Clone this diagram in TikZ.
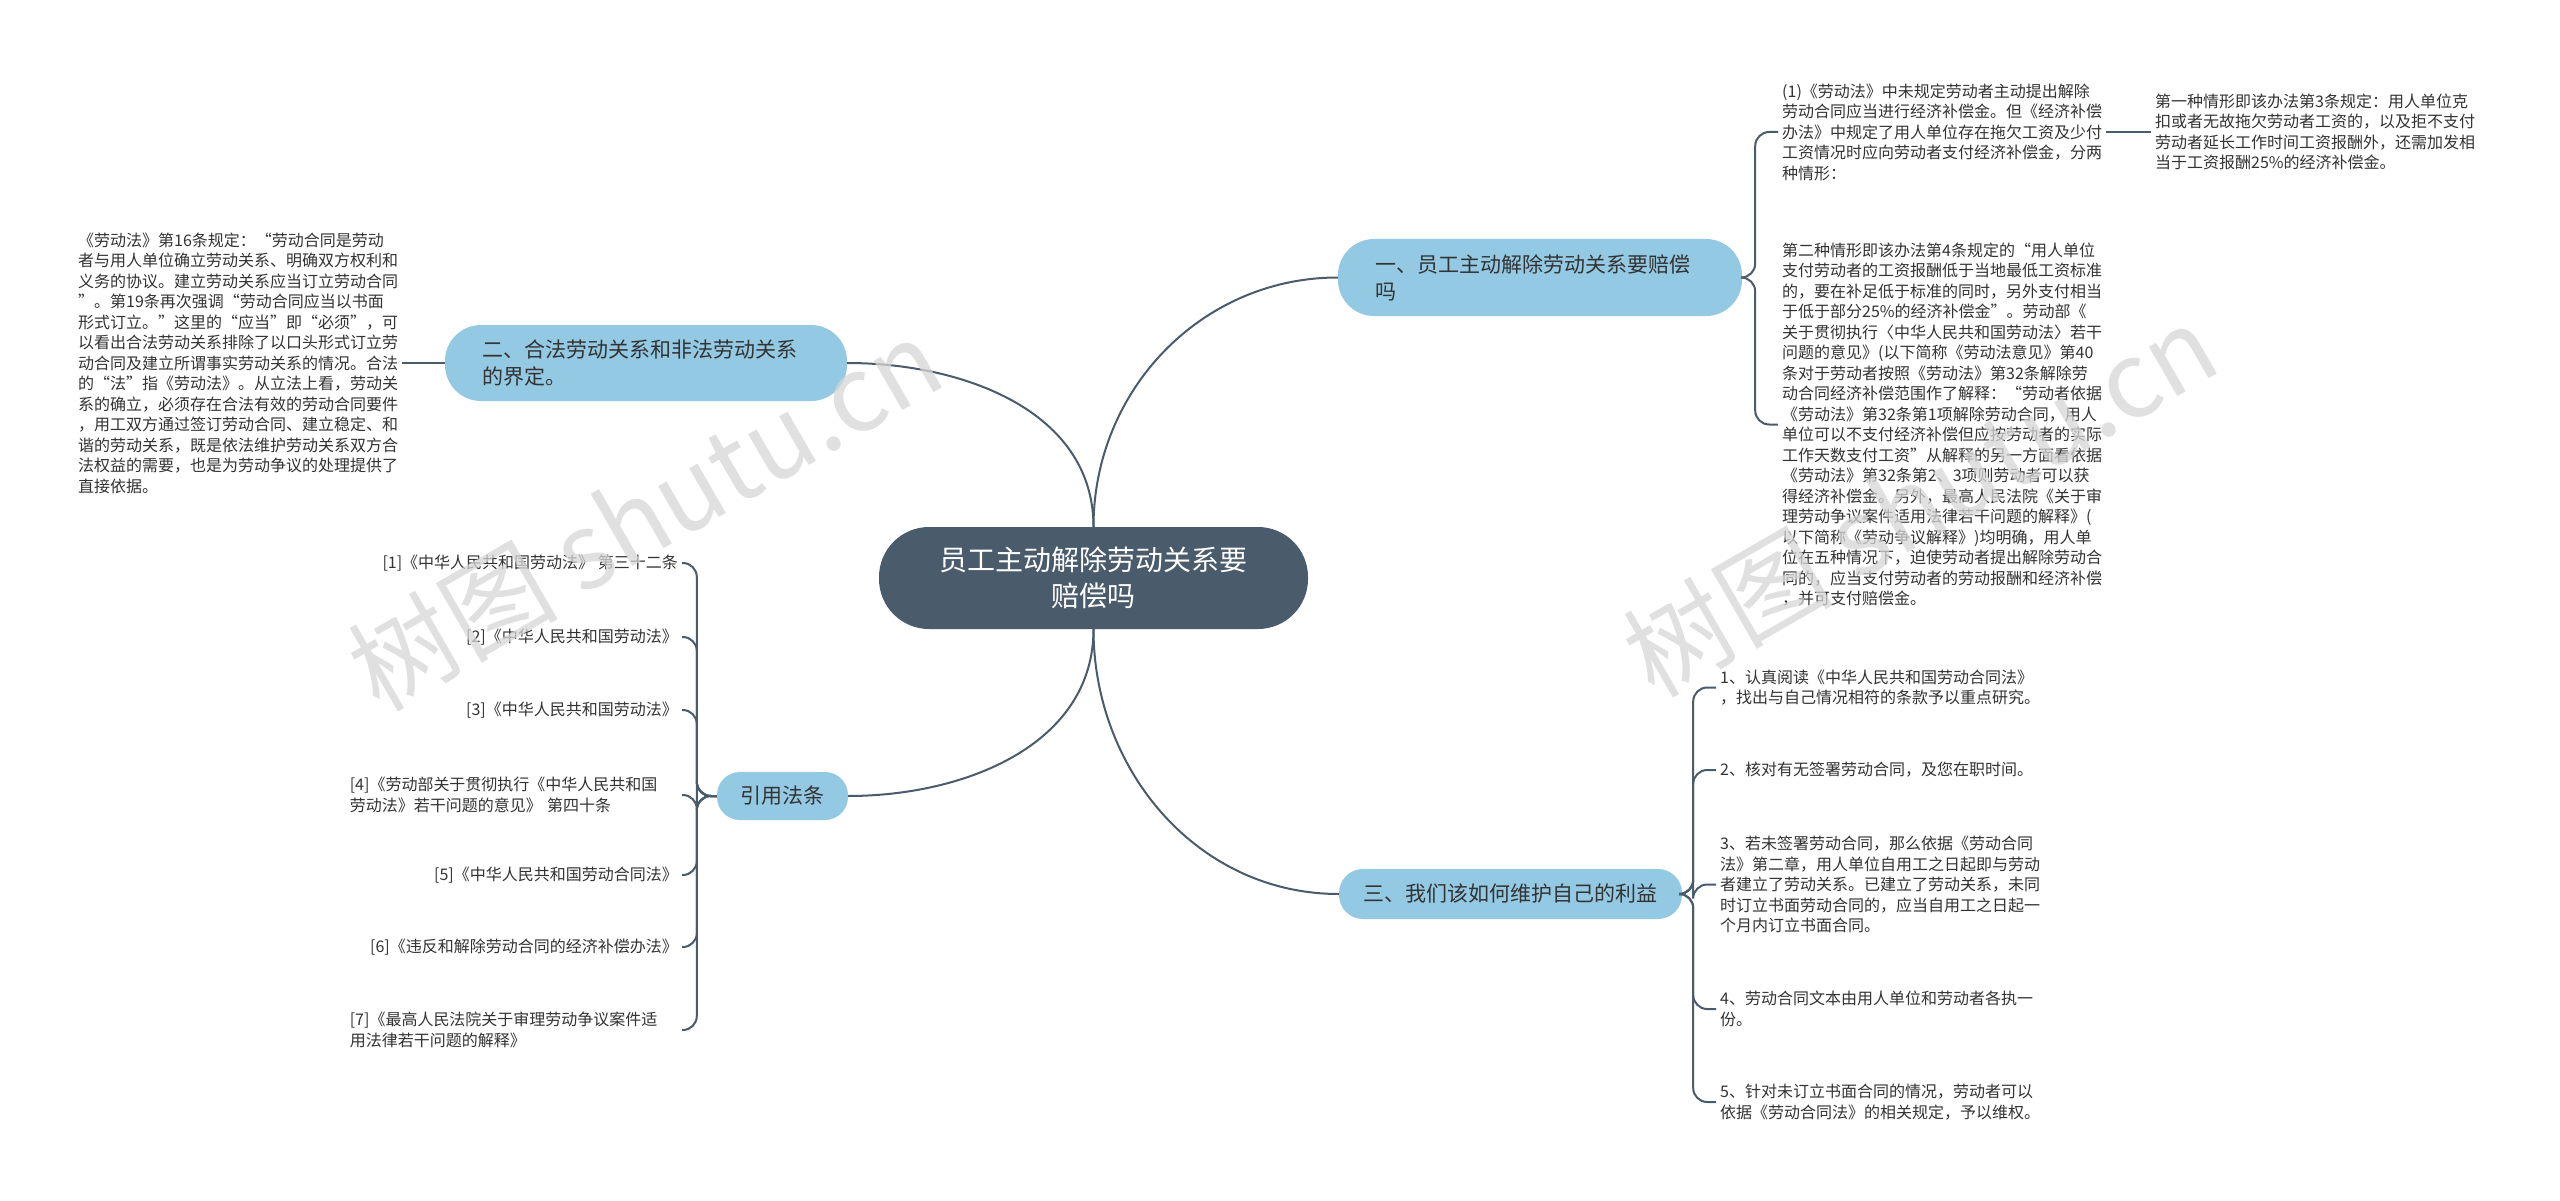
\documentclass[tikz,border=0pt]{standalone}
\usepackage{fontspec}
\setmainfont{Noto Sans CJK SC}
\usepackage{tikz}
\usetikzlibrary{positioning}
\definecolor{rootc}{HTML}{4A5B6B}
\definecolor{topicc}{HTML}{94C9E3}
\definecolor{txtc}{HTML}{333333}

\begin{document}
\begin{tikzpicture}[x=1pt,y=1pt,
  link/.style={draw=rootc,line width=2pt,rounded corners=14pt},
  root/.style={fill=rootc,text=white,font=\fontsize{28}{36}\selectfont,align=center,
    minimum width=429pt,minimum height=102pt,rounded corners=50pt},
  topic/.style={fill=topicc,text=txtc,font=\fontsize{21}{27}\selectfont,inner ysep=0pt},
  leaf/.style={text=txtc,font=\fontsize{16}{20.5}\selectfont,inner xsep=4pt,inner ysep=2pt,align=left},
  wmark/.style={text=black!16,opacity=0.75,font=\fontsize{105}{105}\selectfont,rotate=30}]
\path[use as bounding box,fill=white] (0,0) rectangle (2560,-1201);

\node[root] (root) at (1093.5,-578) {员工主动解除劳动关系要\\赔偿吗};

\node[topic,text width=330pt,inner xsep=37pt,minimum height=77pt,align=left,rounded corners=36pt] (b1) at (1540,-277.5) {一、员工主动解除劳动关系要赔偿\\吗};
\node[topic,text width=328pt,inner xsep=37pt,minimum height=76pt,align=left,rounded corners=36pt] (b2) at (646,-363) {二、合法劳动关系和非法劳动关系\\的界定。};
\node[topic,minimum width=131pt,minimum height=48pt,rounded corners=23pt] (b3) at (782.5,-796) {引用法条};
\node[topic,minimum width=343pt,minimum height=50pt,rounded corners=24pt] (b4) at (1510.5,-894) {三、我们该如何维护自己的利益};

\node[leaf,anchor=west] (l1a) at (1778,-132) {(1)《劳动法》中未规定劳动者主动提出解除\\劳动合同应当进行经济补偿金。但《经济补偿\\办法》中规定了用人单位存在拖欠工资及少付\\工资情况时应向劳动者支付经济补偿金，分两\\种情形：};
\node[leaf,anchor=west] (l1a1) at (2151,-132) {第一种情形即该办法第3条规定：用人单位克\\扣或者无故拖欠劳动者工资的，以及拒不支付\\劳动者延长工作时间工资报酬外，还需加发相\\当于工资报酬25\%的经济补偿金。};
\node[leaf,anchor=west] (l1b) at (1778,-424.5) {第二种情形即该办法第4条规定的“用人单位\\支付劳动者的工资报酬低于当地最低工资标准\\的，要在补足低于标准的同时，另外支付相当\\于低于部分25\%的经济补偿金”。劳动部《\\关于贯彻执行〈中华人民共和国劳动法〉若干\\问题的意见》(以下简称《劳动法意见》第40\\条对于劳动者按照《劳动法》第32条解除劳\\动合同经济补偿范围作了解释：“劳动者依据\\《劳动法》第32条第1项解除劳动合同，用人\\单位可以不支付经济补偿但应按劳动者的实际\\工作天数支付工资”从解释的另一方面看依据\\《劳动法》第32条第2、3项则劳动者可以获\\得经济补偿金。另外，最高人民法院《关于审\\理劳动争议案件适用法律若干问题的解释》(\\以下简称《劳动争议解释》)均明确，用人单\\位在五种情况下，迫使劳动者提出解除劳动合\\同的，应当支付劳动者的劳动报酬和经济补偿\\，并可支付赔偿金。};

\node[leaf,anchor=west] (l2) at (74,-363) {《劳动法》第16条规定：“劳动合同是劳动\\者与用人单位确立劳动关系、明确双方权利和\\义务的协议。建立劳动关系应当订立劳动合同\\”。第19条再次强调“劳动合同应当以书面\\形式订立。”这里的“应当”即“必须”，可\\以看出合法劳动关系排除了以口头形式订立劳\\动合同及建立所谓事实劳动关系的情况。合法\\的“法”指《劳动法》。从立法上看，劳动关\\系的确立，必须存在合法有效的劳动合同要件\\，用工双方通过签订劳动合同、建立稳定、和\\谐的劳动关系，既是依法维护劳动关系双方合\\法权益的需要，也是为劳动争议的处理提供了\\直接依据。};

\node[leaf,anchor=east,align=right] (r1) at (682,-563) {[1]《中华人民共和国劳动法》 第三十二条};
\node[leaf,anchor=east,align=right] (r2) at (682,-637) {[2]《中华人民共和国劳动法》};
\node[leaf,anchor=east,align=right] (r3) at (682,-710) {[3]《中华人民共和国劳动法》};
\node[leaf,anchor=east,text width=328pt] (r4) at (682,-795) {[4]《劳动部关于贯彻执行《中华人民共和国\\劳动法》若干问题的意见》 第四十条};
\node[leaf,anchor=east,align=right] (r5) at (682,-875) {[5]《中华人民共和国劳动合同法》};
\node[leaf,anchor=east,align=right] (r6) at (682,-947) {[6]《违反和解除劳动合同的经济补偿办法》};
\node[leaf,anchor=east,text width=328pt] (r7) at (682,-1030) {[7]《最高人民法院关于审理劳动争议案件适\\用法律若干问题的解释》};

\node[leaf,anchor=west] (s1) at (1716,-687.5) {1、认真阅读《中华人民共和国劳动合同法》\\，找出与自己情况相符的条款予以重点研究。};
\node[leaf,anchor=west] (s2) at (1716,-770) {2、核对有无签署劳动合同，及您在职时间。};
\node[leaf,anchor=west] (s3) at (1716,-884.5) {3、若未签署劳动合同，那么依据《劳动合同\\法》第二章，用人单位自用工之日起即与劳动\\者建立了劳动关系。已建立了劳动关系，未同\\时订立书面劳动合同的，应当自用工之日起一\\个月内订立书面合同。};
\node[leaf,anchor=west] (s4) at (1716,-1009) {4、劳动合同文本由用人单位和劳动者各执一\\份。};
\node[leaf,anchor=west] (s5) at (1716,-1102) {5、针对未订立书面合同的情况，劳动者可以\\依据《劳动合同法》的相关规定，予以维权。};

\draw[link] (root.north) to[out=90,in=180] (b1.west);
\draw[link] (root.north) to[out=90,in=0] (b2.east);
\draw[link] (root.south) to[out=-90,in=0] (b3.east);
\draw[link] (root.south) to[out=-90,in=180] (b4.west);

\draw[link] (b1.east) -- ++(13,0) |- (l1a.west);
\draw[link] (b1.east) -- ++(13,0) |- (l1b.west);
\draw[link] (l1a.east) -- (l1a1.west);

\draw[link] (b2.west) -- (l2.east);

\draw[link] (b3.west) -- ++(-20,0) |- (r1.east);
\draw[link] (b3.west) -- ++(-20,0) |- (r2.east);
\draw[link] (b3.west) -- ++(-20,0) |- (r3.east);
\draw[link] (b3.west) -- ++(-20,0) |- (r4.east);
\draw[link] (b3.west) -- ++(-20,0) |- (r5.east);
\draw[link] (b3.west) -- ++(-20,0) |- (r6.east);
\draw[link] (b3.west) -- ++(-20,0) |- (r7.east);

\draw[link] (b4.east) -- ++(11,0) |- (s1.west);
\draw[link] (b4.east) -- ++(11,0) |- (s2.west);
\draw[link] (b4.east) -- ++(11,0) |- (s3.west);
\draw[link] (b4.east) -- ++(11,0) |- (s4.west);
\draw[link] (b4.east) -- ++(11,0) |- (s5.west);

\node[wmark] (w1) at (645,-514) {树图 shutu.cn};
\node[wmark] (w2) at (1920,-500) {树图 shutu.cn};
\end{tikzpicture}
\end{document}
